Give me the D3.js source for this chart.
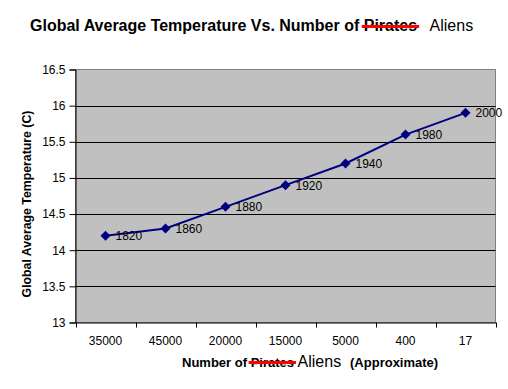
<!DOCTYPE html>
<html><head><meta charset="utf-8">
<script src="https://cdn.jsdelivr.net/npm/d3@7"></script>
<style>body{margin:0;background:#fff}svg{display:block}text{font-family:"Liberation Sans",Arial,sans-serif;white-space:pre}</style>
</head><body>
<script>
const categories = ["35000","45000","20000","15000","5000","400","17"];
const years = ["1820","1860","1880","1920","1940","1980","2000"];
const temps = [14.2,14.3,14.6,14.9,15.2,15.6,15.9];
const yTicks = [13,13.5,14,14.5,15,15.5,16,16.5];

const W=508,H=389;
const m={left:75.5,right:495.5,top:69.5,bottom:322.5};
const svg=d3.select("body").append("svg").attr("width",W).attr("height",H);

const x=d3.scaleBand().domain(categories).range([m.left,m.right]);
const y=d3.scaleLinear().domain([13,16.5]).range([m.bottom,m.top]);

svg.append("rect").attr("x",m.left).attr("y",m.top).attr("width",m.right-m.left).attr("height",m.bottom-m.top)
  .attr("fill","#c0c0c0").attr("stroke","#808080").attr("stroke-width",1);

svg.append("g").selectAll("line").data(yTicks.slice(1,-1)).join("line")
  .attr("x1",m.left).attr("x2",m.right).attr("y1",d=>Math.round(y(d))+0.5).attr("y2",d=>Math.round(y(d))+0.5)
  .attr("stroke","#000").attr("stroke-width",1);

const yAxis=svg.append("g").attr("transform",`translate(${m.left},0)`)
  .call(d3.axisLeft(y).tickValues(yTicks).tickFormat(d=>String(d)).tickSize(6).tickPadding(4));
yAxis.select(".domain").attr("stroke","#000");
yAxis.selectAll("text").attr("font-size",12).attr("fill","#000");

const xAxis=svg.append("g").attr("transform",`translate(0,${m.bottom})`)
  .call(d3.axisBottom(x).tickSize(0).tickPadding(14));
xAxis.select(".domain").attr("stroke","#000");
xAxis.selectAll("text").attr("font-size",12).attr("fill","#000");
const bounds=categories.map(c=>x(c)).concat([m.right]);
svg.append("g").selectAll("line").data(bounds).join("line")
  .attr("x1",d=>Math.round(d)+0.5).attr("x2",d=>Math.round(d)+0.5).attr("y1",m.bottom).attr("y2",m.bottom+5)
  .attr("stroke","#000");

const pts=categories.map((c,i)=>({c,v:temps[i],yr:years[i]}));
svg.append("path").datum(pts).attr("fill","none").attr("stroke","#000080").attr("stroke-width",2)
  .attr("d",d3.line().x(d=>x(d.c)+x.bandwidth()/2).y(d=>y(d.v)));
svg.append("g").selectAll("path").data(pts).join("path")
  .attr("transform",d=>`translate(${x(d.c)+x.bandwidth()/2},${y(d.v)})`)
  .attr("d","M0,-5L5,0L0,5L-5,0Z").attr("fill","#000080");
svg.append("g").selectAll("text").data(pts).join("text")
  .attr("x",d=>x(d.c)+x.bandwidth()/2+10).attr("y",d=>y(d.v)+4.5)
  .attr("font-size",12).attr("fill","#000").text(d=>d.yr);

function strike(tspanSel, yy, ext, w){
  const n=tspanSel.node();
  const s=n.getStartPositionOfChar(0).x, e=n.getEndPositionOfChar(n.getNumberOfChars()-1).x;
  svg.append("line").attr("x1",s-ext).attr("x2",e+ext).attr("y1",yy).attr("y2",yy).attr("stroke","#ff0000").attr("stroke-width",w);
}

// title
const t=svg.append("text").attr("x",30).attr("y",31).attr("font-size",16).attr("font-weight","bold").attr("fill","#000");
t.append("tspan").text("Global Average Temperature Vs. Number of ");
const tp=t.append("tspan").text("Pirates");
t.append("tspan").attr("font-weight","normal").text("   Aliens");
strike(tp,26.5,2,3);

// x title
const xt=svg.append("text").attr("x",182).attr("y",367).attr("font-size",13).attr("font-weight","bold").attr("fill","#000");
xt.append("tspan").text("Number of ");
const xp=xt.append("tspan").text("Pirates");
xt.append("tspan").attr("font-weight","normal").attr("font-size",16).text(" Aliens  ");
xt.append("tspan").text("(Approximate)");
strike(xp,362.5,2,3);

// y title
svg.append("text").attr("transform","translate(30.5,204) rotate(-90)").attr("text-anchor","middle")
  .attr("font-size",12.3).attr("font-weight","bold").attr("fill","#000").text("Global Average Temperature (C)");
</script>
</body></html>
